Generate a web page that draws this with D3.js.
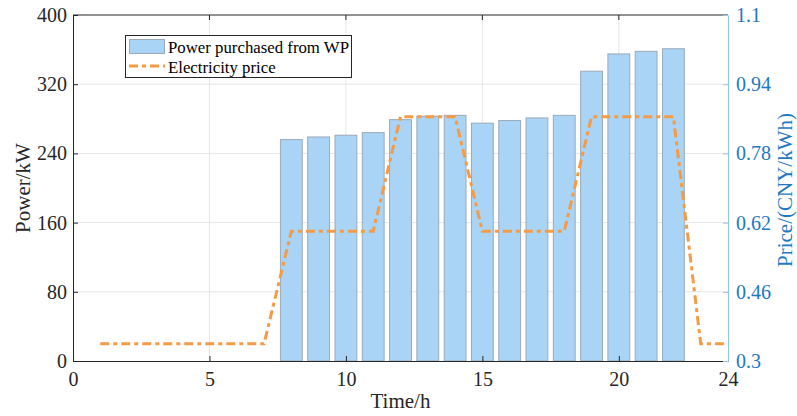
<!DOCTYPE html>
<html>
<head>
<meta charset="utf-8">
<script src="https://cdn.jsdelivr.net/npm/d3@7"></script>
<style>
  body { margin: 0; background: #fff; }
</style>
</head>
<body>
<script>
// hourly purchase from WP (kW), hours 8..22
var barHours = [8,9,10,11,12,13,14,15,16,17,18,19,20,21,22];
var barPower = [256,259,261,264,279,283,284,275,278,281,284,335,355,358,361];

// electricity price (CNY/kWh), hours 1..24
var priceHours = [1,2,3,4,5,6,7,8,9,10,11,12,13,14,15,16,17,18,19,20,21,22,23,24];
var priceVals = [0.34,0.34,0.34,0.34,0.34,0.34,0.34,0.60,0.60,0.60,0.60,0.865,0.865,0.865,
                 0.60,0.60,0.60,0.60,0.865,0.865,0.865,0.865,0.34,0.34];

var xTicks = [0,5,10,15,20,24];
var yTicks = [0,80,160,240,320,400];
var y2Ticks = [0.3,0.46,0.62,0.78,0.94,1.1];

var FONT = '"Liberation Serif", "Times New Roman", "DejaVu Serif", serif';

var width = 797, height = 416;
var margin = {left:73, right:69, top:15, bottom:55};
var w = width - margin.left - margin.right;
var h = height - margin.top - margin.bottom;

var x = d3.scaleLinear().domain([0,24]).range([0,w]);
var y = d3.scaleLinear().domain([0,400]).range([h,0]);
var y2 = d3.scaleLinear().domain([0.3,1.1]).range([h,0]);

var svg = d3.select("body").append("svg").attr("width",width).attr("height",height);
var g = svg.append("g").attr("transform","translate("+margin.left+","+margin.top+")");

// grid
g.selectAll(".gx").data(xTicks.slice(1,-1)).enter().append("line")
  .attr("x1",d=>x(d)).attr("x2",d=>x(d)).attr("y1",0).attr("y2",h)
  .attr("stroke","#e6e6e6");
g.selectAll(".gy").data(yTicks.slice(1,-1)).enter().append("line")
  .attr("x1",0).attr("x2",w).attr("y1",d=>y(d)).attr("y2",d=>y(d))
  .attr("stroke","#e6e6e6");

// bars
var bw = x(0.8) - x(0);
g.selectAll(".bar").data(barHours).enter().append("rect")
  .attr("x",d=>x(d)-bw/2)
  .attr("y",(d,i)=>y(barPower[i]))
  .attr("width",bw)
  .attr("height",(d,i)=>h - y(barPower[i]))
  .attr("fill","#a9d4f6")
  .attr("stroke","#9aaab8")
  .attr("stroke-width",1);

// price line
var line = d3.line().x(d=>x(d[0])).y(d=>y2(d[1]));
g.append("path")
  .attr("d",line(priceHours.map((d,i)=>[d,priceVals[i]])))
  .attr("fill","none")
  .attr("stroke","#f59a45")
  .attr("stroke-width",3)
  .attr("stroke-dasharray","9,4,4,4");

// top frame
g.append("line").attr("x1",0).attr("x2",w).attr("y1",0).attr("y2",0).attr("stroke","#262626");
g.selectAll(".tt").data(xTicks.slice(1,-1)).enter().append("line")
  .attr("x1",d=>x(d)).attr("x2",d=>x(d)).attr("y1",0).attr("y2",5).attr("stroke","#262626");

// axes
var xAxis = g.append("g").attr("transform","translate(0,"+h+")")
  .call(d3.axisBottom(x).tickValues(xTicks).tickSizeInner(-5).tickSizeOuter(0).tickPadding(11));
var yAxis = g.append("g")
  .call(d3.axisLeft(y).tickValues(yTicks).tickSizeInner(-5).tickSizeOuter(0).tickPadding(6));
var y2Axis = g.append("g").attr("transform","translate("+w+",0)")
  .call(d3.axisRight(y2).tickValues(y2Ticks).tickFormat(d3.format("~g")).tickSizeInner(-5).tickSizeOuter(0).tickPadding(8));

[xAxis,yAxis,y2Axis].forEach(function(a){ a.attr("font-family",null).attr("font-size",null); });
[xAxis,yAxis].forEach(function(a){
  a.selectAll("path,line").attr("stroke","#262626");
  a.selectAll("text").attr("fill","#262626").style("font-family",FONT).style("font-size","20px");
});
y2Axis.selectAll("path,line").attr("stroke","#8ec4ee");
y2Axis.selectAll("text").attr("fill","#1e78c2").style("font-family",FONT).style("font-size","20px");

// labels
svg.append("text").attr("x",margin.left + w/2).attr("y",408)
  .attr("text-anchor","middle").style("font-family",FONT).style("font-size","21px").attr("fill","#262626").text("Time/h");
svg.append("text").attr("transform","translate(30,188) rotate(-90)")
  .attr("text-anchor","middle").style("font-family",FONT).style("font-size","21px").attr("fill","#262626").text("Power/kW");
svg.append("text").attr("transform","translate(792,190) rotate(-90)")
  .attr("text-anchor","middle").style("font-family",FONT).style("font-size","21px").attr("fill","#1e78c2").text("Price/(CNY/kWh)");

// legend
var lg = svg.append("g");
lg.append("rect").attr("x",125.5).attr("y",35.5).attr("width",226).attr("height",42)
  .attr("fill","#fff").attr("stroke","#262626").attr("stroke-width",1);
lg.append("rect").attr("x",129.5).attr("y",39.5).attr("width",35).attr("height",14)
  .attr("fill","#a9d4f6").attr("stroke","#9aaab8");
lg.append("line").attr("x1",129).attr("x2",165).attr("y1",66).attr("y2",66)
  .attr("stroke","#f59a45").attr("stroke-width",3).attr("stroke-dasharray","9,4,4,4");
lg.append("text").attr("x",168).attr("y",53).style("font-family",FONT).style("font-size","16.8px").attr("fill","#000").text("Power purchased from WP");
lg.append("text").attr("x",168).attr("y",73).style("font-family",FONT).style("font-size","16.8px").attr("fill","#000").text("Electricity price");
</script>
</body>
</html>
